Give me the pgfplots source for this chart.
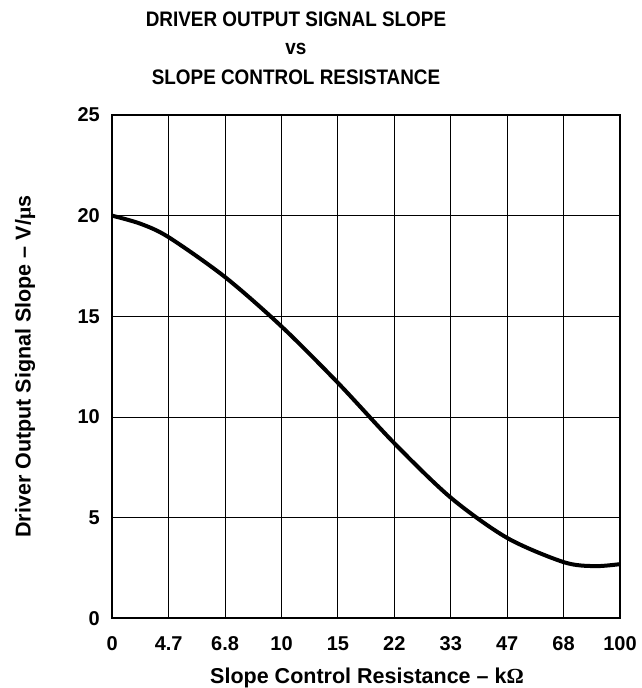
\documentclass[border=0pt]{standalone}
\usepackage{fontspec}
\setmainfont{Liberation Sans}
\newfontfamily\serif{Liberation Serif}
\newfontfamily\titlefont[FakeStretch=0.9]{Liberation Sans}
\usepackage{pgfplots}
\pgfplotsset{compat=1.18}
\begin{document}
\begin{tikzpicture}
\begin{axis}[
  name=ax,
  at={(0,0)}, anchor=south west,
  scale only axis,
  width=507.7pt, height=503.5pt,
  xmin=0, xmax=9, ymin=0, ymax=25,
  xtick={0,1,2,3,4,5,6,7,8,9},
  xticklabels={0,4.7,6.8,10,15,22,33,47,68,100},
  ytick={0,5,10,15,20,25},
  grid=major,
  major grid style={black, line width=1pt},
  axis line style={black, line width=2pt},
  tick style={draw=none},
  /pgf/number format/assume math mode=true,
  ticklabel style={font=\fontsize{20}{24}\selectfont\bfseries, inner sep=0pt},
  xticklabel style={anchor=base, yshift=-31.5pt},
  yticklabel style={anchor=east, xshift=-12.3pt},
]
\addplot[black, line width=4pt, smooth] coordinates {
(0,20.0) (0.5,19.6) (1,18.93) (2,16.95) (3,14.5) (4,11.7) (5,8.7) (6,6.0) (7,4.0) (8,2.8) (8.55,2.6) (9,2.7)
};
\end{axis}
\begin{scope}[every node/.style={font=\titlefont\fontsize{21}{25}\selectfont\bfseries, inner sep=0pt, anchor=base}]
\node at (183.7pt,591.5pt) {DRIVER OUTPUT SIGNAL SLOPE};
\node at (183.7pt,563.5pt) {vs};
\node at (183.7pt,533.5pt) {SLOPE CONTROL RESISTANCE};
\end{scope}
\node[font=\fontsize{21.5}{25}\selectfont\bfseries, inner sep=0pt, anchor=base] at (254.7pt,-64.5pt) {Slope Control Resistance -- k{\serif Ω}};
\node[font=\fontsize{21.5}{25}\selectfont\bfseries, inner sep=0pt, anchor=base, rotate=90] at (-81.6pt,251.75pt) {Driver Output Signal Slope -- V/{\serif μ}s};
\pgfresetboundingbox
\path (-112.3pt,-69.5pt) rectangle (529.7pt,618.5pt);
\end{tikzpicture}
\end{document}
